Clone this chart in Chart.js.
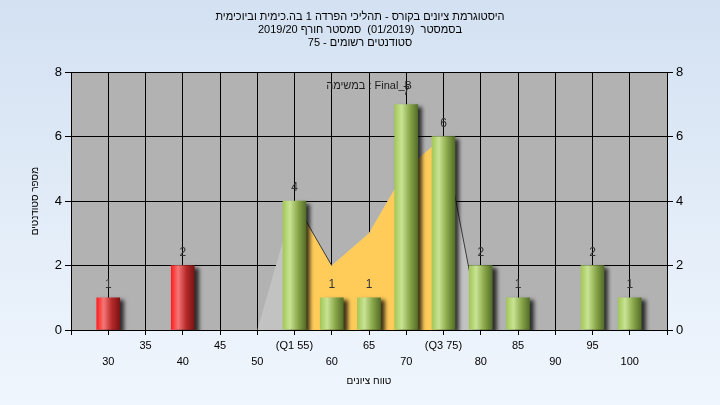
<!DOCTYPE html>
<html lang="he">
<head>
<meta charset="UTF-8">
<title>היסטוגרמת ציונים בקורס</title>
<script src="https://cdn.jsdelivr.net/npm/chart.js"></script>
<style>
    html, body { margin: 0; padding: 0; }
    body { width: 720px; height: 405px; overflow: hidden; background: linear-gradient(#d3e1f2, #f0f6fd); }
    #wrap { width: 720px; height: 405px; }
</style>
</head>
<body>
<div id="wrap"><canvas id="histChart" width="720" height="405"></canvas></div>
<script>
    // נתוני ההיסטוגרמה
    const scoreBins = [30, 35, 40, 45, 50, 55, 60, 65, 70, 75, 80, 85, 90, 95, 100];
    const studentCounts = [1, 0, 2, 0, 0, 4, 1, 1, 7, 6, 2, 1, 0, 2, 1];
    const passScore = 55;
    // עקומת הרקע (אפור) והתחום בין הרבעונים (צהוב)
    const curveBins = [50, 55, 60, 65, 70, 75, 80];
    const curveValues = [0, 4, 2, 3, 5, 6, 0];
    const q1Score = 55;
    const q3Score = 75;
    const xMin = 25, xMax = 105;
    const yTicks = [0, 2, 4, 6, 8];

    const titleLines = [
        'היסטוגרמת ציונים בקורס - תהליכי הפרדה 1 בה.כימית וביוכימית',
        'בסמסטר  (01/2019)  סמסטר חורף 2019/20',
        'סטודנטים רשומים - 75'
    ];
    const taskLabel = 'במשימה : Final_B';
    const yTitle = 'מספר סטודנטים';
    const xTitle = 'טווח ציונים';

    // צבעים
    const plotBg = '#b2b2b2';
    const grayArea = '#c2c2c2';
    const yellowArea = '#ffcc5a';
    const edgeColor = '#3a3a3a';
    const greenStops = [[0, '#a2c858'], [0.3, '#c9e394'], [0.65, '#8aa84a'], [1, '#546e28']];
    const redStops = [[0, '#ff1e1e'], [0.3, '#f47676'], [0.65, '#b82a2a'], [1, '#7a1414']];
    const barWidth = 23;

    Chart.defaults.font.family = '"Liberation Sans", "DejaVu Sans", Arial, sans-serif';
    Chart.defaults.color = '#000';

    function barFill(c) {
        const chart = c.chart;
        if (c.type !== 'data' || !chart.chartArea) return '#9cbf55';
        const cx = chart.scales.x.getPixelForValue(c.raw.x);
        const g = chart.ctx.createLinearGradient(cx - barWidth / 2, 0, cx + barWidth / 2, 0);
        const stops = c.raw.x < passScore ? redStops : greenStops;
        stops.forEach(s => g.addColorStop(s[0], s[1]));
        return g;
    }

    const plotBackground = {
        id: 'plotBackground',
        beforeDraw(chart) {
            const a = chart.chartArea, ctx = chart.ctx;
            ctx.save();
            ctx.fillStyle = plotBg;
            ctx.fillRect(a.left, a.top, a.right - a.left, a.bottom - a.top);
            ctx.restore();
        }
    };

    const barShadow = {
        id: 'barShadow',
        beforeDatasetDraw(chart, args) {
            if (args.meta.type !== 'bar') return;
            const ctx = chart.ctx;
            ctx.save();
            ctx.shadowColor = 'rgba(0,0,0,0.75)';
            ctx.shadowOffsetX = 4;
            ctx.shadowOffsetY = 3;
            ctx.shadowBlur = 4;
        },
        afterDatasetDraw(chart, args) {
            if (args.meta.type !== 'bar') return;
            chart.ctx.restore();
        }
    };

    const valueLabels = {
        id: 'valueLabels',
        afterDatasetsDraw(chart) {
            const ctx = chart.ctx;
            const meta = chart.getDatasetMeta(0);
            const points = chart.data.datasets[0].data;
            ctx.save();
            ctx.font = '12px ' + Chart.defaults.font.family;
            ctx.textAlign = 'center';
            ctx.textBaseline = 'middle';
            ctx.fillStyle = '#333';
            meta.data.forEach((el, i) => {
                if (points[i].y > 0) ctx.fillText(String(points[i].y), el.x, el.y - 13);
            });
            const a = chart.chartArea;
            ctx.font = '11px ' + Chart.defaults.font.family;
            ctx.fillStyle = '#1e1e1e';
            ctx.fillText(taskLabel, (a.left + a.right) / 2, a.top + 14);
            ctx.restore();
        }
    };

    const barPoints = scoreBins.map((x, i) => ({ x: x, y: studentCounts[i] })).filter(p => p.y > 0);
    const curvePoints = curveBins.map((x, i) => ({ x: x, y: curveValues[i] }));
    const iqrPoints = curvePoints.filter(p => p.x >= q1Score && p.x <= q3Score);

    new Chart(document.getElementById('histChart'), {
        type: 'bar',
        data: {
            datasets: [
                {
                    type: 'bar', data: barPoints, order: 0,
                    backgroundColor: barFill, borderWidth: 0, barThickness: barWidth
                },
                {
                    type: 'line', data: curvePoints, order: 1, fill: false, pointRadius: 0, borderWidth: 1,
                    segment: {
                        borderColor: s => (s.p0.parsed.x === q1Score || s.p0.parsed.x === q3Score) ? edgeColor : 'rgba(0,0,0,0)'
                    }
                },
                {
                    type: 'line', data: iqrPoints, order: 2, fill: 'origin', pointRadius: 0,
                    borderWidth: 0, borderColor: 'rgba(0,0,0,0)', backgroundColor: yellowArea
                },
                {
                    type: 'line', data: curvePoints, order: 3, fill: 'origin', pointRadius: 0,
                    borderWidth: 0, borderColor: 'rgba(0,0,0,0)', backgroundColor: grayArea
                }
            ]
        },
        options: {
            responsive: false,
            animation: false,
            events: [],
            layout: { padding: 0 },
            plugins: {
                legend: { display: false },
                tooltip: { enabled: false },
                title: {
                    display: true, text: titleLines, color: '#000',
                    font: { size: 11, weight: 'normal', lineHeight: 1.19 },
                    padding: { top: 10, bottom: 23 }
                }
            },
            scales: {
                x: {
                    type: 'linear', min: xMin, max: xMax, offset: false,
                    afterBuildTicks: s => { s.ticks = [xMin].concat(scoreBins, [xMax]).map(v => ({ value: v })); },
                    afterFit: s => { s.height = 75; },
                    grid: { offset: false, color: '#000', tickColor: '#000', tickLength: 5 },
                    border: { color: '#000' },
                    ticks: {
                        autoSkip: false, maxRotation: 0, padding: 3, color: '#000',
                        font: { size: 11, lineHeight: 1.4545 },
                        callback: v => {
                            const i = scoreBins.indexOf(v);
                            if (i < 0) return '';
                            const txt = v === q1Score ? '(Q1 ' + v + ')' : v === q3Score ? '(Q3 ' + v + ')' : String(v);
                            return i % 2 === 1 ? [txt, ''] : ['', txt];
                        }
                    },
                    title: { display: true, text: xTitle, color: '#000', font: { size: 10, lineHeight: 1.4 }, padding: { top: 4, bottom: 17 } }
                },
                y: {
                    position: 'left', min: 0, max: 8,
                    afterBuildTicks: s => { s.ticks = yTicks.map(v => ({ value: v })); },
                    afterFit: s => { s.width = 71; },
                    grid: { color: '#000', tickColor: '#000', tickLength: 6 },
                    border: { color: '#000' },
                    ticks: { padding: 3, color: '#000', font: { size: 13 } },
                    title: { display: true, text: yTitle, color: '#000', font: { size: 10, lineHeight: 1.4 }, padding: { top: 28, bottom: 0 } }
                },
                y2: {
                    position: 'right', min: 0, max: 8,
                    afterBuildTicks: s => { s.ticks = yTicks.map(v => ({ value: v })); },
                    afterFit: s => { s.width = 53; },
                    grid: { drawOnChartArea: false, color: '#000', tickColor: '#000', tickLength: 6 },
                    border: { color: '#000' },
                    ticks: { padding: 3, color: '#000', font: { size: 13 } }
                }
            }
        },
        plugins: [plotBackground, barShadow, valueLabels]
    });
</script>
</body>
</html>
